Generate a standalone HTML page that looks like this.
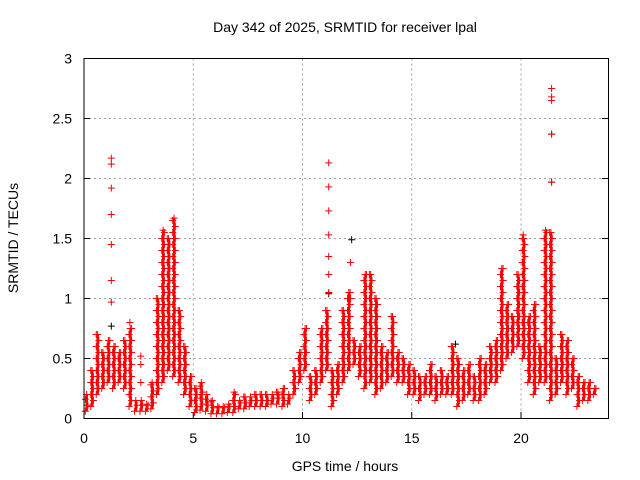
<!DOCTYPE html>
<html><head><meta charset="utf-8"><style>
body{margin:0;background:#fff}
svg{display:block;font-family:"Liberation Sans",sans-serif}
</style></head><body>
<svg id="chart" width="640" height="480" viewBox="0 0 640 480">
<rect width="640" height="480" fill="#fff"/>
<text x="345" y="32" font-size="14" text-anchor="middle">Day 342 of 2025, SRMTID for receiver lpal</text>
<text x="345" y="471" font-size="14" text-anchor="middle">GPS time / hours</text>
<text transform="translate(18,238) rotate(-90)" font-size="14" text-anchor="middle">SRMTID / TECUs</text>
<g id="grid"></g>
<g id="marks"></g>
<rect x="84" y="58.5" width="524.5" height="360" fill="none" stroke="#000" stroke-width="1"/>
<g id="ticks"></g>
</svg>
<script>
const binStart = [0,0.25,0.5,0.75,1,1.25,1.5,1.75,2,2.25,2.5,2.75,3,3.25,3.5,3.75,4,4.25,4.5,4.75,5,5.25,5.5,5.75,6,6.25,6.5,6.75,7,7.25,7.5,7.75,8,8.25,8.5,8.75,9,9.25,9.5,9.75,10,10.25,10.5,10.75,11,11.25,11.5,11.75,12,12.25,12.5,12.75,13,13.25,13.5,13.75,14,14.25,14.5,14.75,15,15.25,15.5,15.75,16,16.25,16.5,16.75,17,17.25,17.5,17.75,18,18.25,18.5,18.75,19,19.25,19.5,19.75,20,20.25,20.5,20.75,21,21.25,21.5,21.75,22,22.25,22.5,22.75,23,23.25];
const lowVals = [0.06,0.1,0.2,0.25,0.3,0.25,0.3,0.25,0.1,0.06,0.06,0.06,0.08,0.2,0.3,0.4,0.35,0.3,0.2,0.1,0.05,0.07,0.06,0.04,0.04,0.04,0.05,0.05,0.08,0.08,0.1,0.1,0.1,0.1,0.12,0.12,0.1,0.12,0.2,0.3,0.4,0.15,0.2,0.3,0.4,0.1,0.2,0.3,0.4,0.45,0.35,0.25,0.3,0.2,0.25,0.3,0.35,0.3,0.3,0.2,0.2,0.15,0.2,0.2,0.15,0.2,0.2,0.2,0.1,0.15,0.2,0.15,0.15,0.2,0.3,0.3,0.4,0.5,0.55,0.6,0.5,0.3,0.2,0.3,0.3,0.15,0.2,0.3,0.2,0.25,0.1,0.15,0.15,0.2];
const highVals = [0.2,0.4,0.7,0.55,0.65,0.6,0.55,0.65,0.75,0.15,0.15,0.12,0.3,1.0,1.57,1.5,1.67,0.9,0.6,0.35,0.25,0.3,0.2,0.15,0.1,0.1,0.12,0.22,0.15,0.18,0.18,0.2,0.2,0.2,0.2,0.22,0.25,0.2,0.4,0.55,0.75,0.35,0.4,0.75,0.9,0.4,0.45,0.9,1.05,0.65,0.6,1.2,1.2,1.0,0.6,0.55,0.85,0.55,0.5,0.45,0.4,0.35,0.35,0.45,0.35,0.4,0.35,0.6,0.5,0.4,0.45,0.35,0.5,0.45,0.6,0.65,1.25,0.95,0.85,1.2,1.5,0.85,0.95,0.6,1.57,1.55,0.5,0.7,0.65,0.5,0.35,0.3,0.3,0.25];
const outlierHours = [1.25,1.25,1.25,1.25,1.25,1.25,1.25,2.1,2.6,2.6,2.6,11.2,11.2,11.2,11.2,11.2,11.2,11.2,12.2,12.2,20.1,20.1,21.4,21.4,21.4,21.4,21.4];
const outlierVals = [0.97,1.15,1.45,1.7,1.92,2.12,2.17,0.8,0.52,0.45,0.3,1.05,1.2,1.35,1.53,1.73,1.93,2.13,1.3,1.0,1.53,1.4,1.97,2.37,2.65,2.68,2.75];
const blackHours = [1.25,11.2,12.25,21.4,21.4,17.0];
const blackVals = [0.77,1.04,1.49,1.97,2.37,0.62];
const xTicks = [0,5,10,15,20];
const yTicks = [0,0.5,1,1.5,2,2.5,3];
const yTickLabels = ["0","0.5","1","1.5","2","2.5","3"];

const NS = "http://www.w3.org/2000/svg";
const X = h => 84 + h * 21.85;
const Y = v => 418.5 - v * 120;
const grid = document.getElementById('grid'), marks = document.getElementById('marks'), ticks = document.getElementById('ticks');
function mk(tag, attrs, parent){const e=document.createElementNS(NS,tag);for(const k in attrs)e.setAttribute(k,attrs[k]);parent.appendChild(e);return e;}

xTicks.forEach(t=>{
  if(t>0){const g=mk('line',{x1:X(t),x2:X(t),y1:58.5,y2:418.5,stroke:'#a0a0a0','stroke-dasharray':'2,3'},grid);
  
  }
  const l=mk('text',{x:X(t),y:443,'font-size':14,'text-anchor':'middle'},ticks);l.textContent=t;
  
  
  mk('line',{x1:X(t),x2:X(t),y1:418.5,y2:412,stroke:'#000'},ticks);
});
yTicks.forEach((t,i)=>{
  if(t>0&&t<3){const g=mk('line',{x1:84,x2:608.5,y1:Y(t),y2:Y(t),stroke:'#a0a0a0','stroke-dasharray':'2,3'},grid);
  
  }
  const l=mk('text',{x:72,y:Y(t)+5,'font-size':14,'text-anchor':'end'},ticks);l.textContent=yTickLabels[i];
  
  
  mk('line',{x1:84,x2:90,y1:Y(t),y2:Y(t),stroke:'#000'},ticks);
  mk('line',{x1:608.5,x2:602,y1:Y(t),y2:Y(t),stroke:'#000'},ticks);
});
function plus(h,v,color){
  const x=X(h),y=Y(v);
  const p=mk('path',{d:`M${x-3.5},${y}H${x+3.5}M${x},${y-3.5}V${y+3.5}`,stroke:color,'stroke-width':1,fill:'none'},marks);
  
  
}
blackHours.forEach((h,i)=>plus(h,blackVals[i],'#000'));
binStart.forEach((h,i)=>{
  const lo=lowVals[i],hi=highVals[i];
  const r=mk('rect',{x:X(h)+1.5,y:Y(hi),width:2.5,height:Y(lo)-Y(hi),fill:'#f00'},marks);
  
  
  let k=0;
  for(let v=lo;v<=hi+1e-9;v+=0.05,k++){plus(h+(k%2?0.18:0.06),v,'#f00');}
  plus(h+0.12,hi,'#f00');
});
outlierHours.forEach((h,i)=>plus(h,outlierVals[i],'#f00'));
</script>
</body></html>
